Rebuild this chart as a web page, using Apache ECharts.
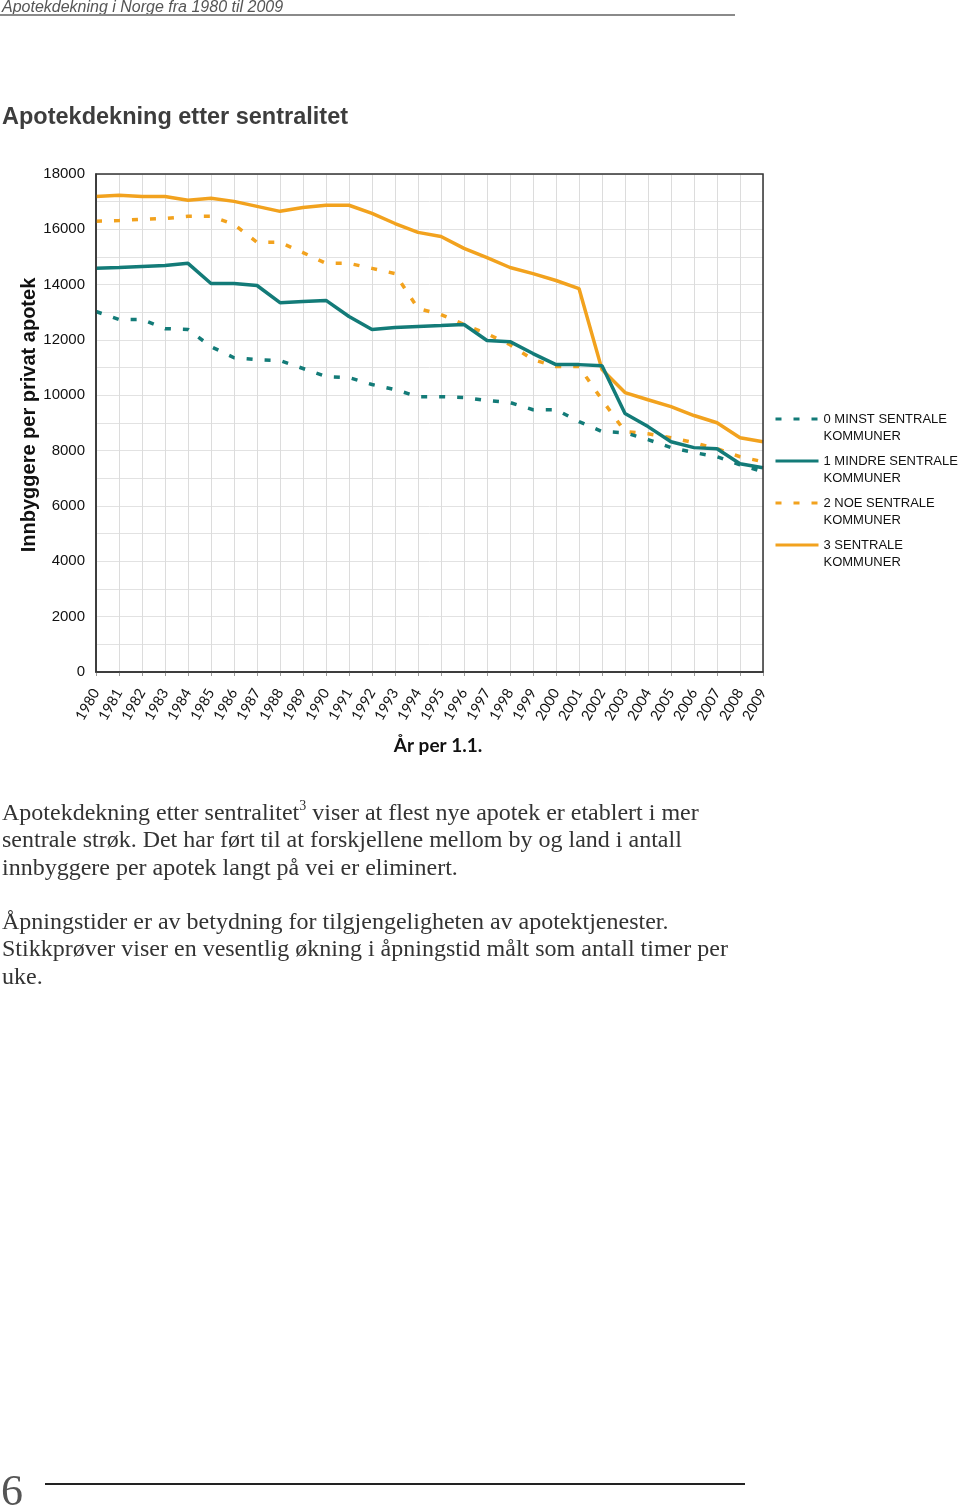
<!DOCTYPE html>
<html><head><meta charset="utf-8">
<script src="https://cdn.jsdelivr.net/npm/echarts@6/dist/echarts.min.js"></script>
<style>
html,body{margin:0;padding:0;background:#fff;width:960px;height:1509px;overflow:hidden;position:relative}
#chart{position:absolute;left:0;top:0;width:960px;height:1509px}
.t{position:absolute;white-space:nowrap}
</style></head><body>
<div id="chart"></div>
<div class="t" style="left:2px;top:-2px;font:italic 16px 'Liberation Sans',Arial,sans-serif;color:#555">Apotekdekning i Norge fra 1980 til 2009</div>
<div class="t" style="left:0;top:14px;width:735px;border-top:2px solid #8a8a8a"></div>
<div class="t" style="left:2px;top:799px;font:24px 'Liberation Serif','Times New Roman',serif;line-height:27.3px;color:#333">Apotekdekning etter sentralitet<sup style="font-size:14px;vertical-align:10px;line-height:0">3</sup> viser at flest nye apotek er etablert i mer<br>sentrale strøk. Det har ført til at forskjellene mellom by og land i antall<br>innbyggere per apotek langt på vei er eliminert.</div>
<div class="t" style="left:2px;top:908px;font:24px 'Liberation Serif','Times New Roman',serif;line-height:27.3px;color:#333">Åpningstider er av betydning for tilgjengeligheten av apotektjenester.<br>Stikkprøver viser en vesentlig økning i åpningstid målt som antall timer per<br>uke.</div>
<div class="t" style="left:1px;top:1465px;font:44px 'Liberation Serif','Times New Roman',serif;color:#555">6</div>
<div class="t" style="left:45px;top:1483px;width:700px;border-top:2px solid #222"></div>
<script>
const years = ['1980','1981','1982','1983','1984','1985','1986','1987','1988','1989','1990','1991','1992','1993','1994','1995','1996','1997','1998','1999','2000','2001','2002','2003','2004','2005','2006','2007','2008','2009'];
const names = ['0 MINST SENTRALE\nKOMMUNER','1 MINDRE SENTRALE\nKOMMUNER','2 NOE SENTRALE\nKOMMUNER','3 SENTRALE\nKOMMUNER'];
const minstSentrale = [13030,12740,12740,12410,12380,11760,11360,11290,11260,10970,10680,10640,10390,10210,9950,9950,9920,9810,9740,9480,9480,9050,8690,8650,8400,8110,7930,7780,7490,7240];
const mindreSentrale = [14590,14620,14660,14690,14770,14040,14040,13970,13350,13390,13430,12850,12380,12450,12490,12520,12560,11980,11940,11510,11110,11110,11070,9340,8870,8320,8110,8070,7530,7380];
const noeSentrale = [16290,16320,16360,16390,16470,16470,16180,15530,15530,15160,14770,14770,14590,14400,13140,12920,12560,12230,11830,11290,11040,11040,9840,8690,8610,8470,8290,8070,7780,7600];
const sentrale = [17190,17230,17190,17190,17050,17120,17010,16830,16650,16790,16870,16870,16580,16210,15890,15740,15310,14980,14620,14400,14150,13860,10930,10100,9840,9590,9270,9010,8470,8320];
const yTicks = {min:0, max:18000, interval:2000};

const teal = '#137b78', orange = '#f2a21e';
const dash = [6, 12];
const seriesData = [minstSentrale, mindreSentrale, noeSentrale, sentrale];
const styles = [
  {color: teal, type: dash},
  {color: teal, type: 'solid'},
  {color: orange, type: dash},
  {color: orange, type: 'solid'}
];
const legendIconY = [419, 461, 503, 545];

const chart = echarts.init(document.getElementById('chart'));
chart.setOption({
  animation: false,
  title: {
    text: 'Apotekdekning etter sentralitet',
    left: 2, top: 106, padding: 0,
    textStyle: {fontFamily: "'Liberation Sans', Arial, sans-serif", fontSize: 23.5, fontWeight: 'bold', color: '#3d3d3d'}
  },
  grid: {left: 96, right: 197, top: 174, bottom: 837, containLabel: false, show: false},
  legend: names.map((n, i) => ({
    data: [n],
    orient: 'vertical',
    left: 774,
    top: legendIconY[i] - 25.5,
    padding: 0,
    itemWidth: 43,
    itemHeight: 12,
    selectedMode: false,
    itemStyle: {opacity: 0},
    lineStyle: {width: 3},
    formatter: s => ' \n' + s,
    textStyle: {fontFamily: "'Liberation Sans', Arial, sans-serif", fontSize: 13, color: '#111', lineHeight: 17}
  })),
  xAxis: {
    type: 'category',
    data: years,
    boundaryGap: false,
    name: 'År per 1.1.',
    nameLocation: 'middle',
    nameGap: 64,
    nameTextStyle: {fontFamily: 'Lato, sans-serif', fontSize: 19, fontWeight: 'bold', color: '#111', padding: [0, 0, 0, 17]},
    axisLine: {lineStyle: {color: '#333', width: 1.5}},
    axisTick: {show: true, length: 4, lineStyle: {color: '#999'}},
    axisLabel: {rotate: 60, margin: 18, fontFamily: 'Lato, sans-serif', fontSize: 14.5, color: '#111'},
    splitLine: {show: true, lineStyle: {color: '#dcdcdc', width: 1}}
  },
  yAxis: {
    type: 'value',
    min: yTicks.min, max: yTicks.max, interval: yTicks.interval,
    name: 'Innbyggere per privat apotek',
    nameLocation: 'middle',
    nameGap: 57,
    nameMoveOverlap: false,
    nameTextStyle: {fontFamily: "'Liberation Sans', Arial, sans-serif", fontSize: 20, fontWeight: 'bold', color: '#111', padding: [0, 0, 0, 16]},
    axisLine: {show: true, lineStyle: {color: '#333', width: 1.5}},
    axisTick: {show: false},
    axisLabel: {margin: 11, fontFamily: "'Liberation Sans', Arial, sans-serif", fontSize: 15, color: '#111', formatter: v => String(v)},
    splitLine: {show: true, lineStyle: {color: '#e2e2e2', width: 1}},
    minorSplitLine: {show: true, lineStyle: {color: '#e2e2e2', width: 1}},
    minorTick: {show: false, splitNumber: 2}
  },
  series: seriesData.map((d, i) => ({
    name: names[i],
    type: 'line',
    data: d,
    symbol: 'none',
    showSymbol: false,
    lineStyle: {color: styles[i].color, width: 3.5, type: styles[i].type},
    itemStyle: {color: styles[i].color},
    z: 10 - i
  })),
  graphic: [{
    type: 'rect',
    shape: {x: 96, y: 174, width: 667, height: 498},
    style: {fill: 'none', stroke: '#333', lineWidth: 1.5},
    silent: true, z: 100
  }]
});
</script>
</body></html>
